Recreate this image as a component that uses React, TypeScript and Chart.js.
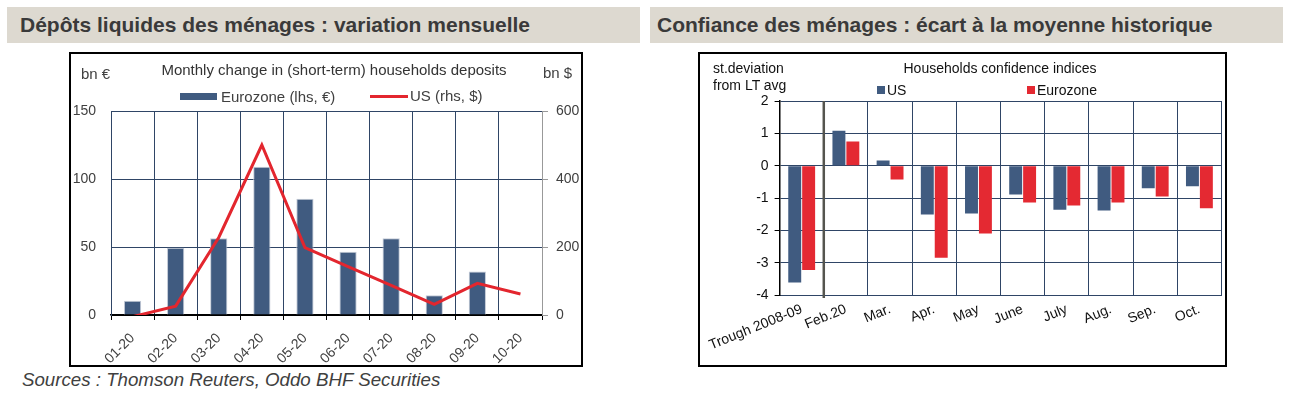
import React, { useEffect, useRef } from 'react';
import { Chart, registerables } from 'chart.js';

Chart.register(...registerables);

// ---------- data ----------
const depositMonths = ['01-20', '02-20', '03-20', '04-20', '05-20', '06-20', '07-20', '08-20', '09-20', '10-20'];
const eurozoneDeposits = [10.5, 49.5, 56.5, 109, 85.5, 46.5, 56.5, 14.5, 32, null];
const usDeposits = [-5, 26, 228, 500, 198, 142, 87, 31, 93, 62];

const confidenceLabels = ['Trough 2008-09', 'Feb.20', 'Mar.', 'Apr.', 'May', 'June', 'July', 'Aug.', 'Sep.', 'Oct.'];
const usConfidence = [-3.61, 1.08, 0.16, -1.51, -1.48, -0.89, -1.36, -1.39, -0.7, -0.64];
const ezConfidence = [-3.23, 0.75, -0.43, -2.85, -2.1, -1.14, -1.23, -1.14, -0.95, -1.32];

// ---------- styles ----------
const FONT = '"Liberation Sans", Arial, sans-serif';
const NAVY = '#2F4566';
const BAR_BLUE = '#405B80';
const RED = '#E3262E';
const TITLE_BG = '#DDD9D0';
const TEXT = '#404040';

Chart.defaults.font.family = FONT;

const separatorPlugin = {
  id: 'separator',
  afterDatasetsDraw(chart: any) {
    const xs = chart.scales.x;
    const px = (xs.getPixelForValue(0) + xs.getPixelForValue(1)) / 2;
    const { top, bottom } = chart.chartArea;
    const ctx = chart.ctx;
    ctx.save();
    ctx.strokeStyle = '#55554F';
    ctx.lineWidth = 2.5;
    ctx.beginPath();
    ctx.moveTo(px, top);
    ctx.lineTo(px, bottom + 3);
    ctx.stroke();
    ctx.restore();
  },
};

function depositsConfig(): any {
  return {
    type: 'bar',
    data: {
      labels: depositMonths,
      datasets: [
        {
          type: 'line',
          label: 'US (rhs, $)',
          data: usDeposits,
          yAxisID: 'y1',
          borderColor: RED,
          borderWidth: 3,
          pointRadius: 0,
          tension: 0,
          fill: false,
          order: 0,
        },
        {
          type: 'bar',
          label: 'Eurozone (lhs, €)',
          data: eurozoneDeposits,
          yAxisID: 'y',
          backgroundColor: BAR_BLUE,
          borderColor: '#C3CAD6',
          borderWidth: 1,
          barPercentage: 0.4,
          categoryPercentage: 1,
          order: 1,
        },
      ],
    },
    options: {
      animation: false,
      responsive: false,
      maintainAspectRatio: false,
      layout: { padding: { top: 57, left: 0, right: 0, bottom: 0 } },
      plugins: { legend: { display: false }, tooltip: { enabled: false } },
      scales: {
        x: {
          offset: true,
          grid: { offset: true, color: NAVY, tickColor: '#000', tickLength: 5, lineWidth: 1 },
          border: { color: '#000', width: 1.5 },
          ticks: { minRotation: 45, maxRotation: 45, autoSkip: false, color: TEXT, font: { size: 14 }, padding: 10 },
          afterFit: (s: any) => { s.height = 50; },
        },
        y: {
          position: 'left',
          min: 0,
          max: 150,
          ticks: { stepSize: 50, color: TEXT, font: { size: 14 }, padding: 15 },
          grid: { color: (c: any) => (c.tick && c.tick.value === 0 ? '#000' : NAVY), drawTicks: false },
          border: { color: NAVY },
          afterFit: (s: any) => { s.width = 40; },
        },
        y1: {
          position: 'right',
          min: 0,
          max: 600,
          ticks: { stepSize: 200, color: TEXT, font: { size: 14 }, padding: 8 },
          grid: { drawOnChartArea: false, color: '#999', tickLength: 6 },
          border: { color: '#999' },
          afterFit: (s: any) => { s.width = 39; },
        },
      },
    },
  };
}

function confidenceConfig(): any {
  return {
    type: 'bar',
    data: {
      labels: confidenceLabels,
      datasets: [
        { label: 'US', data: usConfidence, backgroundColor: BAR_BLUE, categoryPercentage: 0.63, barPercentage: 0.93 },
        { label: 'Eurozone', data: ezConfidence, backgroundColor: '#E42932', categoryPercentage: 0.63, barPercentage: 0.93 },
      ],
    },
    options: {
      animation: false,
      responsive: false,
      maintainAspectRatio: false,
      layout: { padding: { top: 47, left: 0, right: 3.5, bottom: 0 } },
      plugins: { legend: { display: false }, tooltip: { enabled: false } },
      scales: {
        x: {
          offset: true,
          grid: { offset: true, color: NAVY, drawTicks: false },
          border: { color: NAVY },
          ticks: { minRotation: 22, maxRotation: 22, autoSkip: false, color: '#111', font: { size: 14 }, padding: 6 },
          afterFit: (s: any) => { s.height = 70; },
        },
        y: {
          min: -4,
          max: 2,
          ticks: { stepSize: 1, color: '#111', font: { size: 14 }, padding: 6 },
          grid: { color: NAVY, tickColor: '#000', tickLength: 5 },
          border: { color: '#000', width: 1.5 },
          afterFit: (s: any) => { s.width = 76; },
        },
      },
    },
    plugins: [separatorPlugin],
  };
}

function ChartCanvas({ make, left, top, width, height }: any) {
  const ref = useRef<HTMLCanvasElement | null>(null);
  useEffect(() => {
    const chart = new Chart(ref.current as HTMLCanvasElement, make());
    return () => chart.destroy();
  }, []);
  return (
    <canvas
      ref={ref}
      width={width}
      height={height}
      style={{ position: 'absolute', left, top, width, height }}
    />
  );
}

function Txt({ x, y, size, children, color = TEXT, style = {} }: any) {
  return (
    <div
      style={{
        position: 'absolute',
        left: x,
        top: y - 10,
        height: 20,
        lineHeight: '20px',
        fontSize: size,
        color,
        whiteSpace: 'nowrap',
        ...style,
      }}
    >
      {children}
    </div>
  );
}

export default function App() {
  return (
    <div
      style={{
        position: 'fixed',
        left: 0,
        top: 0,
        width: 1289,
        height: 395,
        background: '#fff',
        fontFamily: FONT,
        overflow: 'hidden',
      }}
    >
      {/* title bars */}
      <div style={{ position: 'absolute', left: 7, top: 7, width: 633, height: 36, background: TITLE_BG }} />
      <div style={{ position: 'absolute', left: 650, top: 7, width: 633, height: 36, background: TITLE_BG }} />
      <Txt x={20} y={25} size={21} color="#3A3A3A" style={{ fontWeight: 'bold' }}>
        Dépôts liquides des ménages : variation mensuelle
      </Txt>
      <Txt x={657} y={25} size={21} color="#3A3A3A" style={{ fontWeight: 'bold' }}>
        Confiance des ménages : écart à la moyenne historique
      </Txt>

      {/* left chart box */}
      <div
        style={{
          position: 'absolute',
          left: 69,
          top: 52,
          width: 514,
          height: 315,
          border: '2px solid #000',
          boxSizing: 'border-box',
        }}
      />
      <ChartCanvas make={depositsConfig} left={71} top={54} width={510} height={311} />
      <Txt x={81} y={74} size={15}>bn €</Txt>
      <Txt x={543} y={73} size={15}>bn $</Txt>
      <div
        style={{
          position: 'absolute',
          left: 134,
          top: 60,
          width: 400,
          height: 20,
          lineHeight: '20px',
          textAlign: 'center',
          fontSize: 15,
          color: '#333',
          whiteSpace: 'nowrap',
        }}
      >
        Monthly change in (short-term) households deposits
      </div>
      <div style={{ position: 'absolute', left: 180, top: 93, width: 37, height: 7, background: BAR_BLUE }} />
      <Txt x={221} y={97} size={15}>Eurozone (lhs, €)</Txt>
      <div style={{ position: 'absolute', left: 370, top: 95, width: 38, height: 3, background: RED }} />
      <Txt x={410} y={96} size={15}>US (rhs, $)</Txt>

      {/* right chart box */}
      <div
        style={{
          position: 'absolute',
          left: 698,
          top: 52,
          width: 529,
          height: 315,
          border: '2px solid #000',
          boxSizing: 'border-box',
        }}
      />
      <ChartCanvas make={confidenceConfig} left={700} top={54} width={525} height={311} />
      <Txt x={713} y={68} size={14} color="#111">st.deviation</Txt>
      <Txt x={713} y={85} size={14} color="#111">from LT avg</Txt>
      <div
        style={{
          position: 'absolute',
          left: 800,
          top: 58,
          width: 400,
          height: 20,
          lineHeight: '20px',
          textAlign: 'center',
          fontSize: 14,
          color: '#111',
          whiteSpace: 'nowrap',
        }}
      >
        Households confidence indices
      </div>
      <div style={{ position: 'absolute', left: 877, top: 86, width: 8, height: 8, background: BAR_BLUE }} />
      <Txt x={887} y={90} size={14} color="#111">US</Txt>
      <div style={{ position: 'absolute', left: 1027, top: 86, width: 8, height: 8, background: '#E42932' }} />
      <Txt x={1037} y={90} size={14} color="#111">Eurozone</Txt>

      {/* sources */}
      <Txt x={22} y={380} size={18.7} style={{ fontStyle: 'italic' }}>
        Sources : Thomson Reuters, Oddo BHF Securities
      </Txt>
    </div>
  );
}
